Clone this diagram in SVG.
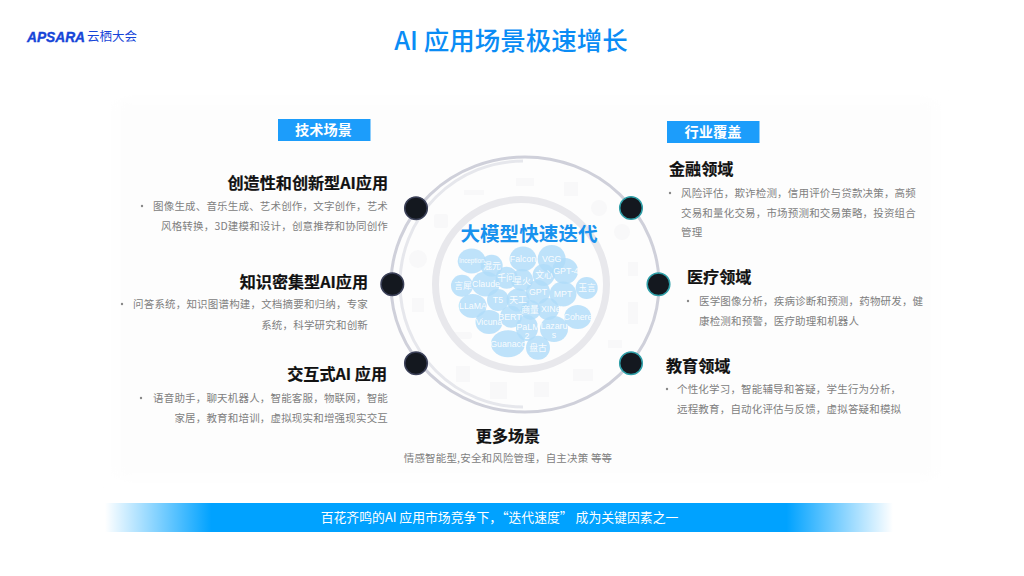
<svg xmlns="http://www.w3.org/2000/svg" width="1024" height="576" viewBox="0 0 1024 576">
<defs>
<linearGradient id="band" x1="0" x2="1" y1="0" y2="0"><stop offset="0" stop-color="#00a2ff" stop-opacity="0"/><stop offset="0.135" stop-color="#00a2ff"/><stop offset="0.865" stop-color="#00a2ff"/><stop offset="1" stop-color="#00a2ff" stop-opacity="0"/></linearGradient>
<filter id="fade" x="-5%" y="-5%" width="110%" height="110%"><feGaussianBlur stdDeviation="7"/></filter>
</defs>
<style>
text{font-family:"Noto Sans CJK SC","Noto Sans",sans-serif}
.h{font-size:16.1px;font-weight:700;fill:#111;stroke:#111;stroke-width:.2}
.b{font-size:10.5px;fill:#808080;letter-spacing:.18px}
.e{text-anchor:end}
.tag{fill:#1c9dfb}
.tagt{font-size:14.2px;font-weight:700;fill:#fff;text-anchor:middle}
.dot{fill:#14181f;stroke-width:1.5}
.bub{fill:#b0dcf9;fill-opacity:.82}
.bt{font-size:8.8px;fill:#fff;fill-opacity:.92;text-anchor:middle;font-family:"Liberation Sans","Noto Sans CJK SC",sans-serif}
.bull{fill:#888}
.ic{fill:#f8f8f9}
</style>
<rect width="1024" height="576" fill="#fff"/>
<rect x="116" y="100" width="820" height="378" fill="#fdfdfd" filter="url(#fade)"/>
<g id="logo"><text x="27" y="41.500" font-size="15" font-weight="700" font-style="italic" fill="#1645d8" stroke="#1645d8" stroke-width=".4" style="font-family:'Liberation Sans',sans-serif" textLength="58" lengthAdjust="spacingAndGlyphs">APSARA</text><text x="87" y="40.500" font-size="12.500" fill="#1645d8">云栖大会</text></g>
<text id="title" x="511" y="50" font-size="25.500" font-weight="500" fill="#0a8cf5" text-anchor="middle">AI 应用场景极速增长</text>
<g id="backdrop-icons">
<rect x="434" y="214" width="14" height="14" rx="2" class="ic"/><circle cx="418" cy="259" r="9" class="ic"/><rect x="452" y="332" width="20" height="7" rx="3" class="ic"/><rect x="456" y="366" width="14" height="16" class="ic"/><rect x="490" y="382" width="17" height="17" class="ic"/><rect x="534" y="382" width="15" height="15" class="ic"/><rect x="573" y="369" width="20" height="12" class="ic"/><rect x="608" y="340" width="14" height="8" class="ic"/><rect x="628" y="302" width="10" height="22" class="ic"/><rect x="628" y="262" width="10" height="14" class="ic"/><circle cx="622" cy="232" r="8" class="ic"/><circle cx="599" cy="208" r="8" class="ic"/><rect x="564" y="182" width="14" height="14" class="ic"/><rect x="516" y="178" width="18" height="8" class="ic"/><rect x="464" y="190" width="20" height="5" class="ic"/><rect x="412" y="298" width="12" height="14" class="ic"/>
</g>
<g id="connectors" fill="none">
<ellipse cx="525" cy="284.500" rx="134" ry="127.500" stroke="#cfd0da" stroke-width="3"/>
<path d="M523 407A123 123 0 0 1 523 161" stroke="#e6e7ec" stroke-width="3"/>
<ellipse cx="521" cy="284.500" rx="85.500" ry="85" stroke="#e8e8ec" stroke-width="7"/>
</g>
<g id="bubbles">
<ellipse class="bub" cx="471.700" cy="261" rx="14" ry="12.500"/><circle class="bub" cx="491.700" cy="265.700" r="11"/><ellipse class="bub" cx="523" cy="259" rx="13.500" ry="12.500"/><circle class="bub" cx="551.700" cy="259" r="14"/><circle class="bub" cx="565" cy="271" r="13"/><circle class="bub" cx="506.700" cy="277.700" r="11"/><circle class="bub" cx="522" cy="280" r="11"/><circle class="bub" cx="543.700" cy="275" r="11"/><circle class="bub" cx="462" cy="285.700" r="11"/><ellipse class="bub" cx="485.700" cy="284" rx="14" ry="12.500"/><circle class="bub" cx="538" cy="292" r="12"/><ellipse class="bub" cx="563" cy="294" rx="13.500" ry="12.500"/><circle class="bub" cx="586.700" cy="288" r="11"/><circle class="bub" cx="498" cy="300" r="11"/><circle class="bub" cx="518" cy="300" r="11.500"/><ellipse class="bub" cx="472.700" cy="306" rx="14" ry="12"/><circle class="bub" cx="530.700" cy="310" r="10"/><circle class="bub" cx="548" cy="309" r="11"/><circle class="bub" cx="511" cy="316.700" r="11"/><ellipse class="bub" cx="489" cy="322" rx="13.500" ry="12"/><ellipse class="bub" cx="577.700" cy="317" rx="13.500" ry="12"/><ellipse class="bub" cx="527" cy="328" rx="11" ry="13"/><ellipse class="bub" cx="554" cy="329" rx="14" ry="13"/><ellipse class="bub" cx="508" cy="343.700" rx="17" ry="13.500"/><circle class="bub" cx="538" cy="347.700" r="12"/>
<text class="bt" x="471.700" y="263" style="font-size:6.300px">Inception</text><text class="bt" x="492" y="269">混元</text><text class="bt" x="523" y="262">Falcon</text><text class="bt" x="551.700" y="262">VGG</text><text class="bt" x="566" y="274">GPT-4</text><text class="bt" x="506" y="281">千问</text><text class="bt" x="522" y="284">星火</text><text class="bt" x="544" y="278">文心</text><text class="bt" x="463" y="289">言犀</text><text class="bt" x="486" y="287">Claude</text><text class="bt" x="538" y="295">GPT</text><text class="bt" x="563" y="297">MPT</text><text class="bt" x="587" y="291">玉言</text><text class="bt" x="498" y="303">T5</text><text class="bt" x="518" y="303">天工</text><text class="bt" x="473" y="309">LLaMA</text><text class="bt" x="530" y="313">商量</text><text class="bt" x="552" y="312">XINet</text><text class="bt" x="510" y="319.500">BERT</text><text class="bt" x="489" y="325">Vicuna</text><text class="bt" x="578" y="320">Cohere</text><text class="bt" x="528" y="329.500">PaLM</text><text class="bt" x="527" y="339">2</text><text class="bt" x="554" y="329">Lazaru</text><text class="bt" x="554" y="338">s</text><text class="bt" x="508" y="347">Guanaco</text><text class="bt" x="538" y="351">盘古</text>
<text x="529" y="241" font-size="19.600" font-weight="700" fill="#1892ee" text-anchor="middle">大模型快速迭代</text>
</g>
<g id="dots">
<circle class="dot" cx="416" cy="208.300" r="11.300" stroke="#3b4058"/><circle class="dot" cx="392.300" cy="284.300" r="11.300" stroke="#3b4058"/><circle class="dot" cx="416" cy="363.300" r="11.300" stroke="#3b4058"/>
<circle class="dot" cx="631" cy="208" r="11.300" stroke="#2f9fa8"/><circle class="dot" cx="658.500" cy="284.300" r="11.300" stroke="#2f9fa8"/><circle class="dot" cx="631" cy="363.300" r="11.300" stroke="#2f9fa8"/>
</g>
<g id="tag-tech"><rect class="tag" x="278" y="119" width="92.500" height="22"/><text class="tagt" x="323.500" y="135">技术场景</text></g>
<g id="tag-ind"><rect class="tag" x="667" y="121" width="92.500" height="22"/><text class="tagt" x="713" y="137">行业覆盖</text></g>
<g id="n1"><text class="h e" x="388" y="188.500">创造性和创新型AI应用</text><circle class="bull" cx="142" cy="206" r="1.200"/><text class="b e" x="388" y="210">图像生成、音乐生成、艺术创作，文字创作，艺术</text><text class="b e" x="388" y="230">风格转换，3D建模和设计，创意推荐和协同创作</text></g>
<g id="n2"><text class="h e" x="368" y="287.500">知识密集型AI应用</text><circle class="bull" cx="122" cy="304" r="1.200"/><text class="b e" x="368" y="308">问答系统，知识图谱构建，文档摘要和归纳，专家</text><text class="b e" x="368" y="329">系统，科学研究和创新</text></g>
<g id="n3"><text class="h e" x="387" y="379.500">交互式AI 应用</text><circle class="bull" cx="141" cy="398" r="1.200"/><text class="b e" x="388" y="402">语音助手，聊天机器人，智能客服，物联网，智能</text><text class="b e" x="388" y="422">家居，教育和培训，虚拟现实和增强现实交互</text></g>
<g id="n4"><text class="h" x="669" y="174.500">金融领域</text><circle class="bull" cx="670" cy="193" r="1.200"/><text class="b" x="681" y="197">风险评估，欺诈检测，信用评价与贷款决策，高频</text><text class="b" x="681" y="217">交易和量化交易，市场预测和交易策略，投资组合</text><text class="b" x="681" y="236">管理</text></g>
<g id="n5"><text class="h" x="687" y="282.500">医疗领域</text><circle class="bull" cx="688" cy="301" r="1.200"/><text class="b" x="699" y="305">医学图像分析，疾病诊断和预测，药物研发，健</text><text class="b" x="699" y="325">康检测和预警，医疗助理和机器人</text></g>
<g id="n6"><text class="h" x="666" y="371.500">教育领域</text><circle class="bull" cx="667" cy="389" r="1.200"/><text class="b" x="677" y="393">个性化学习，智能辅导和答疑，学生行为分析，</text><text class="b" x="677" y="413">远程教育，自动化评估与反馈，虚拟答疑和模拟</text></g>
<g id="n7"><text class="h" x="508" y="441.500" text-anchor="middle">更多场景</text><text class="b" x="508" y="462" text-anchor="middle">情感智能型,安全和风险管理，自主决策 等等</text></g>
<g id="banner"><rect x="105" y="503" width="788" height="29" fill="url(#band)"/><text x="499.500" y="521.500" font-size="12.850" fill="#fff" text-anchor="middle">百花齐鸣的AI 应用市场竞争下，“迭代速度” 成为关键因素之一</text></g>
</svg>
